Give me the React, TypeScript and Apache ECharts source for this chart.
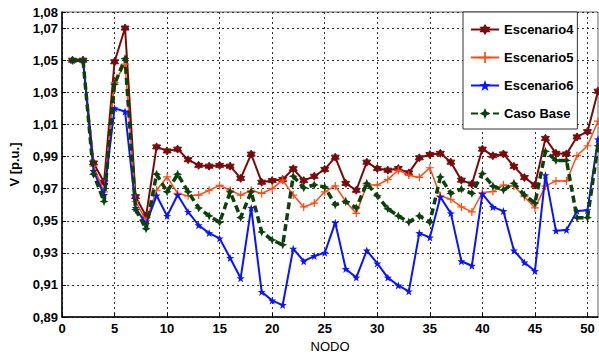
import React, { useEffect, useRef } from "react";
import * as echarts from "echarts";

const nodes = [1,2,3,4,5,6,7,8,9,10,11,12,13,14,15,16,17,18,19,20,21,22,23,24,25,26,27,28,29,30,31,32,33,34,35,36,37,38,39,40,41,42,43,44,45,46,47,48,49,50,51];

const escenario4 = [1.050,1.050,0.986,0.974,1.049,1.070,0.965,0.953,0.996,0.9935,0.9946,0.988,0.9845,0.984,0.9845,0.984,0.9764,0.9915,0.974,0.975,0.9757,0.9824,0.975,0.9777,0.982,0.9896,0.9733,0.969,0.9865,0.9825,0.9815,0.9825,0.9798,0.9892,0.9912,0.992,0.9865,0.9753,0.9729,0.9946,0.9905,0.9916,0.9839,0.9769,0.9722,1.0013,0.992,0.9916,1.0022,1.0055,1.0307];

const escenario5 = [1.050,1.050,0.984,0.968,1.036,1.0476,0.962,0.950,0.969,0.9773,0.967,0.9655,0.966,0.969,0.972,0.969,0.966,0.969,0.967,0.970,0.9753,0.966,0.9586,0.961,0.968,0.9717,0.962,0.9546,0.9722,0.9722,0.9757,0.9815,0.9784,0.977,0.983,0.9655,0.9634,0.9586,0.9555,0.9676,0.9682,0.9722,0.9716,0.965,0.958,0.9716,0.9748,0.9748,0.9905,0.9967,1.012];

const escenario6 = [1.050,1.050,0.981,0.966,1.020,1.018,0.958,0.948,0.9657,0.953,0.966,0.9555,0.9472,0.9423,0.939,0.9268,0.9142,0.958,0.9057,0.9003,0.8975,0.9326,0.9248,0.928,0.930,0.9488,0.920,0.9146,0.9315,0.9234,0.9146,0.9097,0.906,0.9423,0.9396,0.9648,0.9546,0.9248,0.922,0.9667,0.9586,0.956,0.9315,0.924,0.9187,0.9784,0.9437,0.9443,0.956,0.9566,1.0007];

const casoBase = [1.050,1.050,0.979,0.962,1.035,1.051,0.957,0.945,0.979,0.968,0.979,0.968,0.958,0.953,0.949,0.968,0.952,0.968,0.943,0.938,0.935,0.9777,0.9705,0.9723,0.971,0.960,0.962,0.958,0.9733,0.9655,0.9574,0.953,0.9492,0.953,0.949,0.9773,0.967,0.9697,0.967,0.9794,0.9716,0.9692,0.9733,0.966,0.961,0.9932,0.9876,0.9876,0.9519,0.9519,0.9967];

const yTicks = [0.89, 0.91, 0.93, 0.95, 0.97, 0.99, 1.01, 1.03, 1.05, 1.07, 1.08];
const xTicks = [0, 5, 10, 15, 20, 25, 30, 35, 40, 45, 50];

const seriesNames = ["Escenario4", "Escenario5", "Escenario6", "Caso Base"];

const HEX = "path://M0,-10 L2.9,-5 L8.66,-5 L5.8,0 L8.66,5 L2.9,5 L0,10 L-2.9,5 L-8.66,5 L-5.8,0 L-8.66,-5 L-2.9,-5 Z";
const PLUS = "path://M-1.5,-10 H1.5 V-1.5 H10 V1.5 H1.5 V10 H-1.5 V1.5 H-10 V-1.5 H-1.5 Z";
const STAR = "path://M0,-10 L2.4,-3.2 L9.5,-3.1 L3.8,1.2 L5.9,8.1 L0,4 L-5.9,8.1 L-3.8,1.2 L-9.5,-3.1 L-2.4,-3.2 Z";
const DSTAR = "path://M0,-10 L3,-3 L10,0 L3,3 L0,10 L-3,3 L-10,0 L-3,-3 Z";

const FONT = "'Liberation Sans', Arial, sans-serif";

function pairs(vals: number[]) {
  return nodes.map((n, i) => [n, vals[i]]);
}

export default function App() {
  const ref = useRef<HTMLDivElement>(null);
  useEffect(() => {
    if (!ref.current) return;
    const chart = echarts.init(ref.current, undefined, { renderer: "svg" });
    const fmt = (v: number) => v.toFixed(2).replace(".", ",");
    chart.setOption({
      animation: false,
      backgroundColor: "#ffffff",
      textStyle: { fontFamily: FONT },
      grid: {
        left: 53,
        top: 12,
        width: 545,
        height: 311,
        show: true,
        borderColor: "#666",
        borderWidth: 1,
        backgroundColor: "transparent",
      },
      legend: {
        orient: "vertical",
        left: 463,
        top: 12,
        data: seriesNames,
        itemWidth: 28,
        itemHeight: 14,
        itemGap: 15,
        padding: [11, 4, 9, 7],
        backgroundColor: "#ffffff",
        borderColor: "#333",
        borderWidth: 1,
        borderRadius: 0,
        z: 10,
        textStyle: { fontFamily: FONT, fontSize: 13, fontWeight: "bold", color: "#000" },
      },
      xAxis: {
        type: "value",
        min: 0,
        max: 51,
        name: "NODO",
        nameLocation: "middle",
        nameGap: 20,
        nameTextStyle: { fontFamily: FONT, fontSize: 13, color: "#000", verticalAlign: "top" },
        axisLine: { show: true, onZero: false, lineStyle: { color: "#000", width: 1.5 } },
        axisTick: { show: true, inside: true, length: 4, customValues: xTicks, lineStyle: { color: "#000" } },
        axisLabel: {
          customValues: xTicks,
          margin: 5,
          fontFamily: FONT,
          fontSize: 13,
          fontWeight: "bold",
          color: "#000",
        },
        splitLine: { show: true, lineStyle: { color: "#333", type: [2, 3], width: 1 } },
      },
      yAxis: {
        type: "value",
        min: 0.89,
        max: 1.08,
        name: "V [p.u.]",
        nameLocation: "middle",
        nameGap: 41,
        nameRotate: 90,
        nameTextStyle: { fontFamily: FONT, fontSize: 13, fontWeight: "bold", color: "#000" },
        axisLine: { show: true, onZero: false, lineStyle: { color: "#000", width: 1.5 } },
        axisTick: { show: true, inside: true, length: 4, customValues: yTicks, lineStyle: { color: "#000" } },
        axisLabel: {
          customValues: yTicks,
          margin: 4,
          formatter: fmt,
          fontFamily: FONT,
          fontSize: 13,
          fontWeight: "bold",
          color: "#000",
        },
        splitLine: { show: true, lineStyle: { color: "#333", type: [2, 3], width: 1 } },
      },
      series: [
        {
          name: "Escenario4",
          type: "line",
          data: pairs(escenario4),
          symbol: HEX,
          symbolSize: 8,
          color: "#7a0a0a",
          lineStyle: { color: "#7a0a0a", width: 2 },
          itemStyle: { color: "#7a0a0a", borderColor: "#7a0a0a" },
          z: 2,
        },
        {
          name: "Escenario5",
          type: "line",
          data: pairs(escenario5),
          symbol: PLUS,
          symbolSize: 8,
          color: "#ff4a14",
          lineStyle: { color: "#ff4a14", width: 1.5 },
          itemStyle: { color: "#ff4a14" },
          z: 3,
        },
        {
          name: "Escenario6",
          type: "line",
          data: pairs(escenario6),
          symbol: STAR,
          symbolSize: 8,
          color: "#0a14ff",
          lineStyle: { color: "#0a14ff", width: 2 },
          itemStyle: { color: "#0a14ff" },
          z: 4,
        },
        {
          name: "Caso Base",
          type: "line",
          data: pairs(casoBase),
          symbol: DSTAR,
          symbolSize: 9,
          color: "#0b420b",
          lineStyle: { color: "#0b420b", width: 3.5, type: [7, 4] },
          itemStyle: { color: "#0b420b" },
          z: 5,
        },
      ],
    });
    return () => chart.dispose();
  }, []);
  return (
    <div
      ref={ref}
      style={{ position: "absolute", left: 0, top: 0, width: 599, height: 358 }}
    />
  );
}
